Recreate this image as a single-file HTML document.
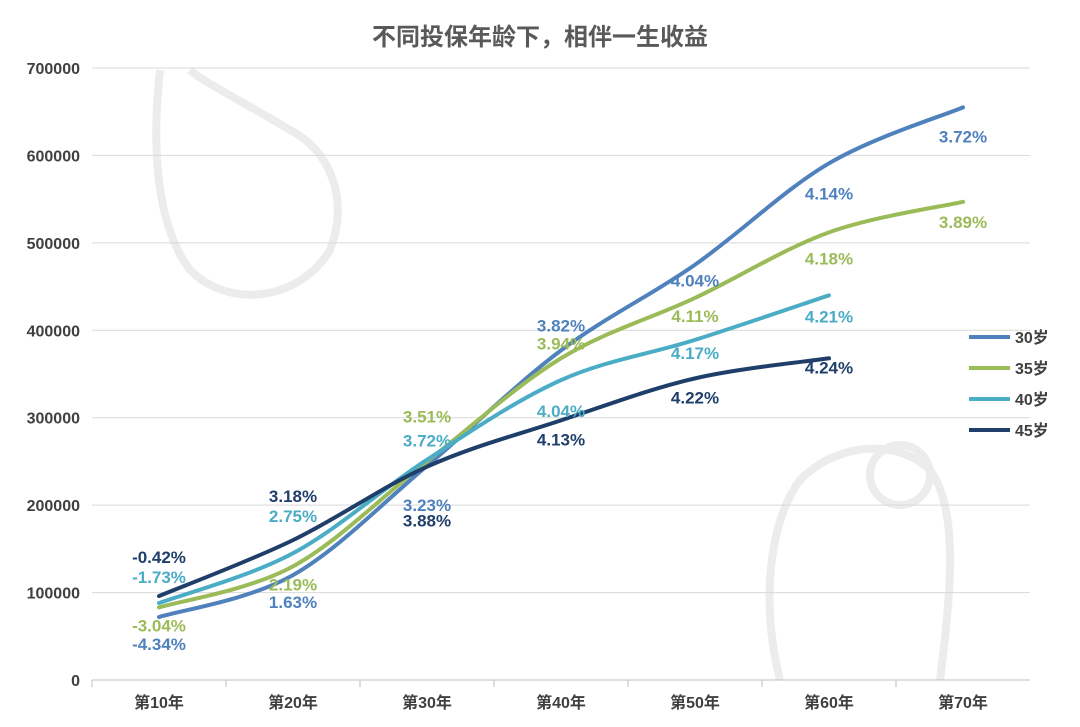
<!DOCTYPE html>
<html><head><meta charset="utf-8"><style>
html,body{margin:0;padding:0;background:#fff;}
svg{display:block;font-family:"Liberation Sans","Noto Sans CJK SC",sans-serif;}
</style></head><body>
<svg id="chart" width="1080" height="727" viewBox="0 0 1080 727">
<g fill="none" stroke="#ececec" stroke-width="8">
<path d="M160 70 C150 160 160 230 190 270 C230 310 300 300 330 250 C350 200 330 150 290 130 C240 100 200 80 190 70"/>
<path d="M780 680 C760 600 770 520 800 480 C840 440 900 440 930 470 C960 510 950 600 940 680"/>
<circle cx="900" cy="475" r="30"/>
</g>
<text x="540" y="45" text-anchor="middle" font-size="24" font-weight="bold" fill="#595959">不同投保年龄下，相伴一生收益</text>
<g id="grid"></g><g id="xaxis"></g><g id="lines"></g><g id="labels"></g><g id="legend"></g>
</svg>
<script>
const categories=["第10年","第20年","第30年","第40年","第50年","第60年","第70年"];
const yTicks=[0,100000,200000,300000,400000,500000,600000,700000];
const seriesNames=["30岁","35岁","40岁","45岁"];
const s30=[72000,120000,245000,377000,475000,591000,655000];
const s35=[83000,130000,250000,368000,437000,512000,547000];
const s40=[88000,145000,252000,343000,389000,440000];
const s45=[96000,160000,244000,297000,345000,368000];
const l30=["-4.34%","1.63%","3.23%","3.82%","4.04%","4.14%","3.72%"];
const l35=["-3.04%","2.19%","3.51%","3.94%","4.11%","4.18%","3.89%"];
const l40=["-1.73%","2.75%","3.72%","4.04%","4.17%","4.21%"];
const l45=["-0.42%","3.18%","3.88%","4.13%","4.22%","4.24%"];
const colors=["#4f81bd","#9bbb59","#4bacc6","#1f3f6a"];
const labelDy=[[27,27,39,-25,16,30,29],[18,18,-45,-15,18,26,20],[-26,-37,-19,31,13,21],[-39,-44,54,19,19,9]];
const NS="http://www.w3.org/2000/svg";
const x0=92,x1=1030,yBase=680,yTop=68;
const xS=i=>x0+(x1-x0)/categories.length*(i+0.5);
const yS=v=>yBase-(v/700000)*(yBase-yTop);
function mk(tag,attrs,parent){const e=document.createElementNS(NS,tag);for(const k in attrs)e.setAttribute(k,attrs[k]);parent.appendChild(e);return e;}
const grid=document.getElementById('grid');
yTicks.forEach(t=>{
 const ln=mk('line',{x1:x0,x2:x1,y1:yS(t),y2:yS(t),stroke:t===0?'#bfbfbf':'#d9d9d9','stroke-width':1},grid);
 
 
 const tx=mk('text',{x:80,y:yS(t)+6,'text-anchor':'end','font-size':16,'font-weight':'bold',fill:'#404040'},grid);
 tx.textContent=t;
 
 
});
const xa=document.getElementById('xaxis');
categories.forEach((c,i)=>{
 const tk=mk('line',{x1:x0+(x1-x0)/7*i,x2:x0+(x1-x0)/7*i,y1:yBase,y2:yBase+7,stroke:'#bfbfbf'},xa);
 
 
 const tx=mk('text',{x:xS(i),y:708,'text-anchor':'middle','font-size':16,'font-weight':'bold',fill:'#404040'},xa);
 tx.textContent=c;
 
 
});
function smooth(pts){let d='M'+pts[0][0]+' '+pts[0][1];for(let i=0;i<pts.length-1;i++){const p0=pts[i-1]||pts[i],p1=pts[i],p2=pts[i+1],p3=pts[i+2]||p2;const c1=[p1[0]+(p2[0]-p0[0])/6,p1[1]+(p2[1]-p0[1])/6],c2=[p2[0]-(p3[0]-p1[0])/6,p2[1]-(p3[1]-p1[1])/6];d+=` C${c1[0]} ${c1[1]} ${c2[0]} ${c2[1]} ${p2[0]} ${p2[1]}`;}return d;}
const all=[s30,s35,s40,s45],labs=[l30,l35,l40,l45];
const lg=document.getElementById('lines'),lb=document.getElementById('labels'),leg=document.getElementById('legend');
all.forEach((s,k)=>{
 const pts=s.map((v,i)=>[xS(i),yS(v)]);
 const p=mk('path',{d:smooth(pts),fill:'none',stroke:colors[k],'stroke-width':4,'stroke-linecap':'round'},lg);
 
 
 s.forEach((v,i)=>{
  const t=mk('text',{x:xS(i),y:yS(v)+labelDy[k][i]+6,'text-anchor':'middle','font-size':17,'font-weight':'bold',fill:colors[k]},lb);
  t.textContent=labs[k][i];
  
  
 });
 const ly=337+31*k;
 const g=mk('g',{},leg);
 
 
 mk('line',{x1:969,x2:1010,y1:ly,y2:ly,stroke:colors[k],'stroke-width':4},g);
 const t=mk('text',{x:1015,y:ly+6,'font-size':16,'font-weight':'bold',fill:'#404040'},g);
 t.textContent=seriesNames[k];
});
</script>
</body></html>
